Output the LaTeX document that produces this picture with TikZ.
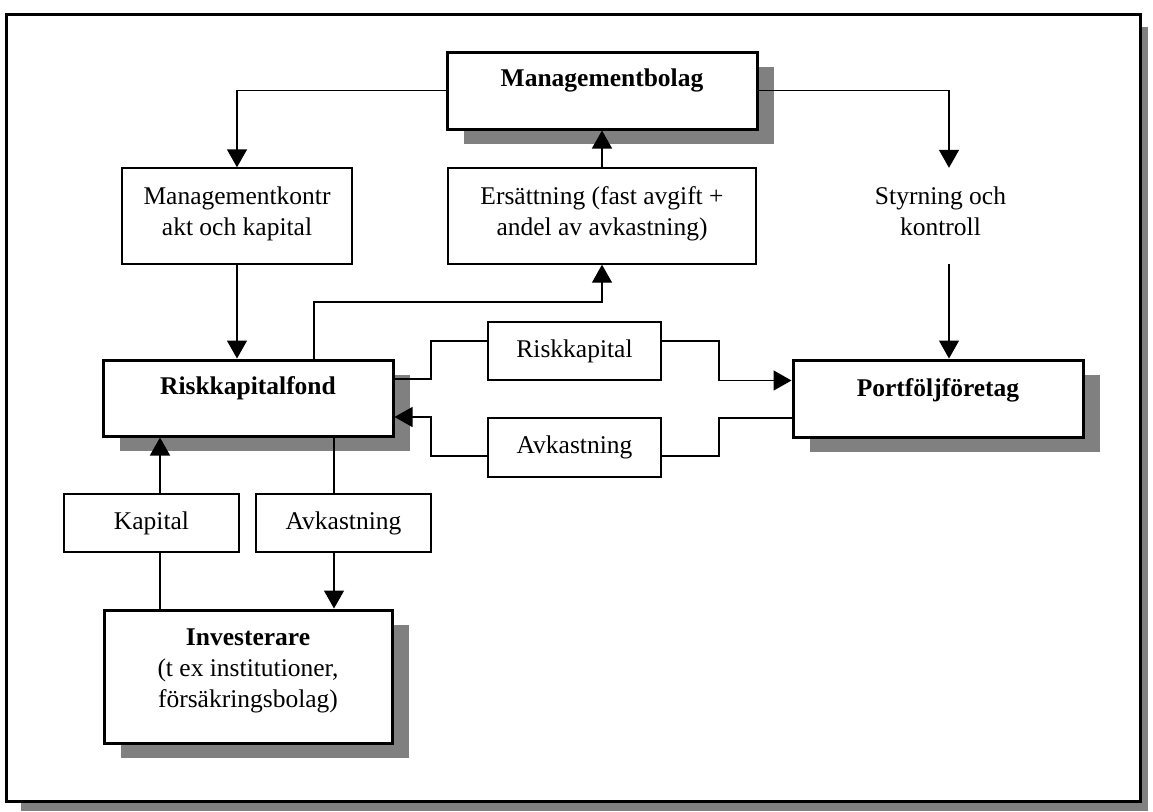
\documentclass[tikz,border=0pt]{standalone}
\usepackage{fontspec}
\setmainfont{Liberation Serif}
\usetikzlibrary{arrows.meta,shadows}
\definecolor{shadowgray}{RGB}{128,128,128}
\newcommand{\diagfont}{\fontsize{25.5}{31}\selectfont}
\tikzset{
  conn/.style={line width=1.4pt},
  arr/.style={conn, -{Triangle[length=18pt,width=20pt]}},
  heavybox/.style={draw, line width=3pt, fill=white, inner sep=0pt,
    general shadow={fill=shadowgray, shadow xshift=17pt, shadow yshift=-15pt}},
  thinbox/.style={draw, line width=1.4pt, fill=white, inner sep=0pt, align=center},
  plainbox/.style={inner sep=0pt, align=center},
  boxtext/.style={anchor=north, inner sep=0pt, align=center, font=\diagfont},
  boldtext/.style={boxtext, font=\diagfont\bfseries},
}
\begin{document}
\begin{tikzpicture}[x=1pt, y=-1pt, font=\diagfont]
\useasboundingbox (0,0) rectangle (1153,811);
\fill[white] (0,0) rectangle (1153,811);

% outer frame with its shadow
\fill[shadowgray] (21,27) rectangle (1148,811);
\draw[line width=3.4pt, fill=white] (6.5,14.7) rectangle (1140.5,801.5);

% main parties
\node[heavybox, minimum width=310pt, minimum height=77pt,
  label={[name=mbt, boldtext, yshift=-18pt]north:Managementbolag}]
  (mb) at (602,90.5) {};
\node[heavybox, minimum width=290pt, minimum height=76pt,
  label={[name=rft, boldtext, yshift=-18pt]north:Riskkapitalfond}]
  (rf) at (248,398) {};
\node[heavybox, minimum width=290pt, minimum height=77pt,
  label={[name=pft, boldtext, yshift=-20pt]north:Portföljföretag}]
  (pf) at (938,398.5) {};
\node[heavybox, minimum width=288pt, minimum height=133pt,
  label={[name=invt, boxtext, yshift=-20pt]north:{\textbf{Investerare}\\(t ex institutioner,\\försäkringsbolag)}}]
  (inv) at (248,676.5) {};

% flows
\node[thinbox, minimum width=230pt, minimum height=96pt] (mk) at (237,216)
  {Managementkontr\\akt och kapital\\[-21pt]};
\node[thinbox, minimum width=308pt, minimum height=96pt] (er) at (602,216)
  {Ersättning (fast avgift +\\andel av avkastning)\\[-21pt]};
\node[plainbox, minimum width=230pt, minimum height=96pt] (sk) at (940.5,216)
  {Styrning och\\kontroll\\[-21pt]};
\node[thinbox, minimum width=173pt, minimum height=58pt] (rk) at (574.5,351) {Riskkapital};
\node[thinbox, minimum width=173pt, minimum height=59pt] (av) at (574.5,447.5) {Avkastning};
\node[thinbox, minimum width=175pt, minimum height=58pt] (kap) at (151.5,523) {Kapital};
\node[thinbox, minimum width=175pt, minimum height=58pt] (avk) at (343.5,523) {Avkastning};

% lanes and ports
\coordinate (skx) at (949,0);
\coordinate (fx) at (314,302);
\coordinate (la) at (431,0);
\coordinate (lb) at (719,0);
\coordinate (kx) at (160,0);
\coordinate (vx) at (334,0);
\coordinate (rfo) at ([yshift=19pt]rf.east);
\coordinate (rfi) at ([yshift=-19pt]rf.east);
\coordinate (pfi) at ([yshift=18pt]pf.west);
\coordinate (pfo) at ([yshift=-19.5pt]pf.west);
\coordinate (rkw) at ([yshift=10pt]rk.west);
\coordinate (rke) at ([yshift=10pt]rk.east);
\coordinate (avw) at ([yshift=-8.5pt]av.west);
\coordinate (ave) at ([yshift=-8.5pt]av.east);

% connectors
\draw[arr] (mb.west) -| (mk.north);
\draw[arr] (mb.east) -| (sk.north -| skx);
\draw[arr] (er.north) -- (mb.south);
\draw[arr] (rf.north -| fx) |- (fx -| er.south) -- (er.south);
\draw[arr] (mk.south) -- (mk.south |- rf.north);
\draw[arr] (sk.south -| skx) -- (pf.north -| skx);

\draw[conn] (rfo) -| (la |- rkw) -- (rkw);
\draw[arr] (rke) -| (lb |- pfi) -- (pfi);
\draw[conn] (pfo) -| (lb |- ave) -- (ave);
\draw[arr] (avw) -| (la |- rfi) -- (rfi);

\draw[conn] (inv.north -| kx) -- (kap.south -| kx);
\draw[arr] (kap.north -| kx) -- (rf.south -| kx);
\draw[conn] (rf.south -| vx) -- (avk.north -| vx);
\draw[arr] (avk.south -| vx) -- (inv.north -| vx);
\end{tikzpicture}
\end{document}
